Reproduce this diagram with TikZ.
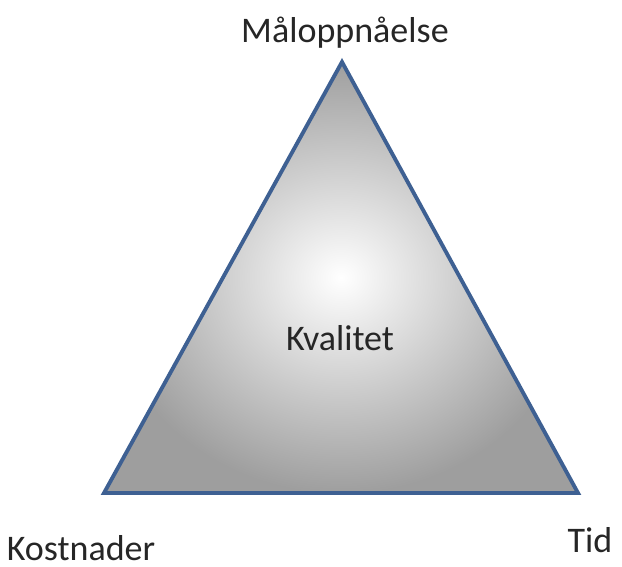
\documentclass[tikz,border=0pt]{standalone}
\usepackage{fontspec}
\setmainfont{Carlito}
\definecolor{kant}{RGB}{62,96,146}
\tikzset{
    etikett/.style={font=\fontsize{20.5}{25}\selectfont, text=black!85},
    side/.style={line width=2.2pt, draw=kant, line join=miter}
}
\begin{document}
\begin{tikzpicture}[x=0.02cm, y=0.02cm]
    \useasboundingbox (0,0) rectangle (622,567);
    % hjørner
    \coordinate (topp) at (342,505);
    \coordinate (venstre) at (104,74);
    \coordinate (hoyre) at (578,74);

    % trekant med skygge
    \shade[inner color=white, outer color=black!38] (venstre) -- (topp) -- (hoyre) -- cycle;
    \draw[side] (venstre) -- (topp) -- (hoyre) -- cycle;

    % tekster
    \node[etikett] (maal) at (345,534) {Måloppnåelse};
    \node[etikett] (kval) at (340,229) {Kvalitet};
    \node[etikett] (kost) at (81,19) {Kostnader};
    \node[etikett] (tid) at (590,27) {Tid};
\end{tikzpicture}
\end{document}
